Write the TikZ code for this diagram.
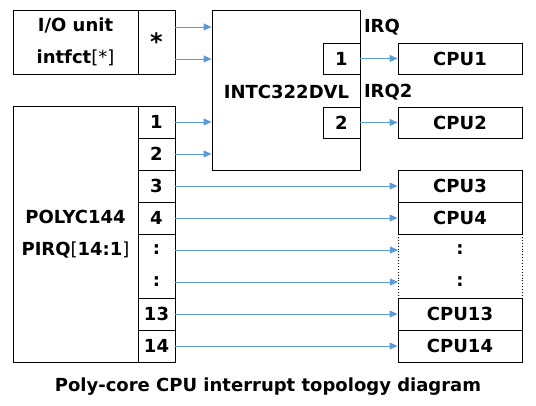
\documentclass[tikz,border=0pt]{standalone}
\usepackage{fontspec}
\setmainfont{DejaVu Sans}
\usetikzlibrary{arrows.meta}
\definecolor{arrc}{HTML}{5B9BD5}
\newcommand{\lblfont}{\fontsize{18}{32}\selectfont\bfseries}
\tikzset{
  box/.style={draw=black,line width=0.9pt,rectangle,inner sep=0pt,font=\lblfont,align=center},
  cell/.style={rectangle,inner sep=0pt,outer sep=0pt,font=\lblfont,align=center},
  arr/.style={draw=arrc,line width=0.9pt,-{Triangle[length=8pt,width=7pt]}},
}
\begin{document}
\begin{tikzpicture}[x=1pt,y=-1pt]
\useasboundingbox (0,0) rectangle (536,405);
% I/O unit
\node[box,minimum width=125pt,minimum height=64pt] (io) at (75.5,42) {I/O unit\\intfct\textmd{[}\textmd{*}\textmd{]}};
\node[box,minimum width=37pt,minimum height=64pt] (star) at (156.5,42) {\raisebox{-5pt}{\fontsize{24}{24}\selectfont *}};
% INTC
\node[box,minimum width=148pt,minimum height=160pt] (intc) at (286,90) {};
\node[cell] (intcl) at (286.5,92) {INTC322DVL};
\node[box,minimum width=37pt,minimum height=31pt] (i1) at (341.5,58.5) {1};
\node[box,minimum width=37pt,minimum height=31pt] (i2) at (341.5,122.5) {2};
\node[cell,anchor=west] (irq1) at (364,27) {IRQ};
\node[cell,anchor=west] (irq2) at (364,92) {IRQ2};
% CPU1/2
\node[box,minimum width=124pt,minimum height=31pt] (c1) at (460,58.5) {CPU1};
\node[box,minimum width=124pt,minimum height=31pt] (c2) at (460,122.5) {CPU2};
% POLYC
\node[box,minimum width=125pt,minimum height=256pt] (poly) at (75.5,234) {};
\node[cell] (polyl) at (75.5,234) {POLYC144\\PIRQ\textmd{[}14:1\textmd{]}};
\foreach \n/\t/\y in {p1/1/122,p2/2/154,p3/3/186,p4/4/218,p13/13/314,p14/14/346}{
  \node[box,minimum width=37pt,minimum height=32pt] (\n) at (156.5,\y) {\t};
}
\node[cell,minimum width=37pt,minimum height=32pt] (pa) at (156.5,250) {:};
\node[cell,minimum width=37pt,minimum height=32pt] (pb) at (156.5,282) {:};
\draw[line width=0.9pt] (pa.north west) rectangle (pb.south east);
% CPU stack
\foreach \n/\t/\y in {c3/CPU3/186,c4/CPU4/218,c13/CPU13/314,c14/CPU14/346}{
  \node[box,minimum width=124pt,minimum height=32pt] (\n) at (460,\y) {\t};
}
\node[cell,minimum width=124pt,minimum height=32pt] (ca) at (460,250) {:};
\node[cell,minimum width=124pt,minimum height=32pt] (cb) at (460,282) {:};
\draw[line width=0.9pt,dotted] (ca.north west) -- (cb.south west);
\draw[line width=0.9pt,dotted] (ca.north east) -- (cb.south east);
% arrows
\draw[arr] ([yshift=15pt]star.east) -- ([yshift=15pt]star.east -| intc.west);
\draw[arr] ([yshift=-17pt]star.east) -- ([yshift=-17pt]star.east -| intc.west);
\draw[arr] (p1.east) -- (p1.east -| intc.west);
\draw[arr] (p2.east) -- (p2.east -| intc.west);
\draw[arr] (i1.east) -- (c1.west);
\draw[arr] (i2.east) -- (c2.west);
\draw[arr] (p3.east) -- (c3.west);
\draw[arr] (p4.east) -- (c4.west);
\draw[arr] (pa.east) -- (ca.west);
\draw[arr] (pb.east) -- (cb.west);
\draw[arr] (p13.east) -- (c13.west);
\draw[arr] (p14.east) -- (c14.west);
% caption
\node[cell] (cap) at (268,387) {Poly-core CPU interrupt topology diagram};
\end{tikzpicture}
\end{document}
